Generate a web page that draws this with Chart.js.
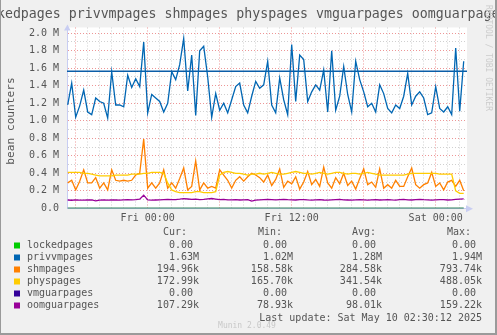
<!DOCTYPE html>
<html>
<head>
<meta charset="utf-8">
<script src="https://cdn.jsdelivr.net/npm/chart.js@4.4.1/dist/chart.umd.min.js"></script>
<style>
html,body{margin:0;padding:0;background:#f0f0f0;}
canvas{display:block;}
</style>
</head>
<body>
<canvas id="beanChart" width="497" height="335"></canvas>
<script>
// samples every 20 min, hours relative to Fri 00:00
const startHour = -6 - 40/60;
const stepHour = 1/3;

// values in thousands
const lockedpages = [
0,0,0,0,0,0,0,0,0,0,0,0,0,0,0,0,0,0,0,0,
0,0,0,0,0,0,0,0,0,0,0,0,0,0,0,0,0,0,0,0,
0,0,0,0,0,0,0,0,0,0,0,0,0,0,0,0,0,0,0,0,
0,0,0,0,0,0,0,0,0,0,0,0,0,0,0,0,0,0,0,0,
0,0,0,0,0,0,0,0,0,0,0,0,0,0,0,0,0,0,0,0
];
const privvmpages = [
1180,1430,1040,1170,1350,1100,1070,1260,1220,1200,
1030,1560,1180,1180,1160,1520,1380,1480,1390,1900,
1090,1300,1260,1220,1100,1200,1560,1470,1640,1940,
1340,1750,1060,1800,1850,1500,1040,1310,1120,1200,
1090,1240,1390,1430,1180,1090,1280,1450,1370,1410,
1680,1180,1090,1490,1240,1070,1870,1220,1750,1700,
1220,1330,1410,1350,1580,1100,1800,1120,1280,1620,
1300,1100,1680,1470,1330,1160,1200,1100,1410,1310,
1140,1090,1180,1140,1280,1540,1180,1280,1330,1260,
1070,1090,1390,1140,1100,1160,1070,1830,1110,1680
];
const privvmLimit = 1566;
const shmpages = [
290,320,210,310,440,290,290,350,230,290,
210,440,320,310,320,310,320,380,400,790,
230,290,230,290,440,230,290,230,340,460,
210,250,540,210,290,230,250,230,440,380,
320,230,320,360,310,360,400,380,350,300,
380,260,330,450,240,310,280,360,220,300,
420,270,330,250,470,290,230,350,280,400,
260,310,220,340,450,270,300,240,450,230,
270,230,320,250,250,360,460,270,230,270,
290,410,250,290,210,300,320,250,320,200
];
const physpages = [
410,410,410,410,400,400,390,380,370,370,
370,370,380,380,380,380,390,390,390,400,
400,410,410,410,400,290,210,190,180,180,
180,180,190,190,180,180,180,190,380,410,
420,410,400,400,390,380,390,390,400,390,
400,410,400,390,390,400,410,420,410,400,
400,390,400,410,400,390,400,410,410,400,
390,400,400,390,400,410,400,390,380,380,
380,380,380,380,380,390,400,400,400,400,
400,400,400,390,390,390,390,200,170,170
];
const vmguarpages = [
0,0,0,0,0,0,0,0,0,0,0,0,0,0,0,0,0,0,0,0,
0,0,0,0,0,0,0,0,0,0,0,0,0,0,0,0,0,0,0,0,
0,0,0,0,0,0,0,0,0,0,0,0,0,0,0,0,0,0,0,0,
0,0,0,0,0,0,0,0,0,0,0,0,0,0,0,0,0,0,0,0,
0,0,0,0,0,0,0,0,0,0,0,0,0,0,0,0,0,0,0,0
];
const oomguarpages = [
95,92,96,94,93,97,95,84,94,96,
93,95,97,94,96,98,97,100,105,150,
96,93,95,97,99,101,98,100,104,110,
106,102,104,100,103,108,112,105,99,101,
97,96,98,95,97,99,82,94,97,99,
101,98,96,100,103,99,97,95,98,100,
96,94,97,99,95,93,96,98,101,97,
95,93,96,99,97,94,96,98,95,97,
100,96,94,98,101,97,95,99,102,98,
96,94,97,100,98,95,97,101,104,107
];

const seriesNames = ["lockedpages","privvmpages","shmpages","physpages","vmguarpages","oomguarpages"];
const seriesColors = ["#00cc00","#0066b3","#ff8000","#ffcc00","#330099","#990099"];
const curVals = ["0.00 ","1.63M","194.96k","172.99k","0.00 ","107.29k"];
const minVals = ["0.00 ","1.02M","158.58k","165.70k","0.00 ","78.93k"];
const avgVals = ["0.00 ","1.28M","284.58k","341.54k","0.00 ","98.01k"];
const maxVals = ["0.00 ","1.94M","793.74k","488.05k","0.00 ","159.22k"];

const xLabels = {0:"Fri 00:00", 12:"Fri 12:00", 24:"Sat 00:00"};
const xMin = -6.725, xMax = xMin + 400/12;
const yMax = 2065;

const mono = "'DejaVu Sans Mono', monospace";
const textGray = "#555";
const axisColor = "#c8cdf2";

function points(vals){
  return vals.map((v,i) => ({x: startHour + i*stepHour, y: v}));
}

const seriesData = [lockedpages, privvmpages, shmpages, physpages, vmguarpages, oomguarpages];
const drawOrder = [0, 5, 4, 3, 1, 2];

const datasets = seriesNames.map((name,k) => ({
  label: name,
  data: points(seriesData[k]),
  borderColor: seriesColors[k],
  borderWidth: 1.3,
  pointRadius: 0,
  tension: 0,
  order: drawOrder[k]
}));
datasets.push({
  label: "privvmpages limit",
  data: [{x: xMin, y: privvmLimit}, {x: xMax, y: privvmLimit}],
  borderColor: "#0b5ea8",
  borderWidth: 1.5,
  pointRadius: 0,
  order: 6
});

// grey page, white plotting area
const backdrop = {
  id: "backdrop",
  beforeDraw(chart){
    const {ctx, chartArea: a} = chart;
    ctx.save();
    ctx.fillStyle = "#f0f0f0";
    ctx.fillRect(0, 0, chart.width, chart.height);
    ctx.fillStyle = "#ffffff";
    ctx.fillRect(a.left, a.top, a.right - a.left, a.bottom - a.top);
    ctx.restore();
  }
};

// title, axis arrows, stats table and footer texts
const decorations = {
  id: "decorations",
  afterDraw(chart){
    const {ctx, chartArea: a} = chart;
    ctx.save();

    // axis arrows
    ctx.fillStyle = axisColor;
    ctx.beginPath();
    ctx.moveTo(a.left - 3, a.top + 3);
    ctx.lineTo(a.left + 3.5, a.top + 3);
    ctx.lineTo(a.left + 0.5, a.top - 3);
    ctx.fill();
    ctx.beginPath();
    ctx.moveTo(a.right - 1, a.bottom - 3);
    ctx.lineTo(a.right - 1, a.bottom + 4);
    ctx.lineTo(a.right + 6, a.bottom + 0.5);
    ctx.fill();

    // title
    ctx.fillStyle = textGray;
    ctx.font = "13.25px " + mono;
    ctx.textAlign = "left";
    ctx.textBaseline = "alphabetic";
    ctx.fillText(seriesNames.join(" "), -27, 18);

    // y axis title
    ctx.save();
    ctx.translate(11, 121);
    ctx.rotate(-Math.PI/2);
    ctx.font = "11.2px " + mono;
    ctx.textAlign = "center";
    ctx.textBaseline = "middle";
    ctx.fillText("bean counters", 0, 0);
    ctx.restore();

    // vertical credit on the right
    ctx.save();
    ctx.translate(488, 5);
    ctx.rotate(Math.PI/2);
    ctx.font = "8px " + mono;
    ctx.fillStyle = "#cccccc";
    ctx.textAlign = "left";
    ctx.textBaseline = "middle";
    ctx.fillText("RRDTOOL / TOBI OETIKER", 0, 0);
    ctx.restore();

    // stats table
    ctx.font = "10px " + mono;
    ctx.textBaseline = "middle";
    ctx.fillStyle = textGray;
    ctx.textAlign = "left";
    ctx.fillText("Cur:", 163, 232);
    ctx.fillText("Min:", 258, 232);
    ctx.fillText("Avg:", 352, 232);
    ctx.fillText("Max:", 447, 232);
    seriesNames.forEach((name,k) => {
      const y = 245.5 + k*12;
      ctx.fillStyle = seriesColors[k];
      ctx.fillRect(14, y - 3, 6, 6);
      ctx.fillStyle = textGray;
      ctx.textAlign = "left";
      ctx.fillText(name, 27, y);
      ctx.textAlign = "right";
      ctx.fillText(curVals[k], 199, y);
      ctx.fillText(minVals[k], 293, y);
      ctx.fillText(avgVals[k], 382, y);
      ctx.fillText(maxVals[k], 482, y);
    });
    ctx.fillText("Last update: Sat May 10 02:30:12 2025", 482, 318);

    ctx.font = "8px " + mono;
    ctx.fillStyle = "#c8c8c8";
    ctx.textAlign = "center";
    ctx.fillText("Munin 2.0.49", 247, 326);

    // frame
    ctx.fillStyle = "#9a9a9a";
    ctx.fillRect(0, 333, chart.width, 2);
    ctx.fillRect(495, 0, 2, chart.height);
    ctx.fillRect(0, 0, 1, chart.height);
    ctx.restore();
  }
};

new Chart(
document.getElementById("beanChart"),
{
type: "line",
data: { datasets: datasets },
options: {
  responsive: false,
  devicePixelRatio: 1,
  animation: false,
  events: [],
  layout: { padding: { left: 0, top: 27.5, right: 30, bottom: 106.7 } },
  plugins: { legend: { display: false }, title: { display: false }, tooltip: { enabled: false } },
  scales: {
    x: {
      type: "linear",
      min: xMin,
      max: xMax,
      afterFit: s => { s.height = 20; },
      border: { display: true, color: axisColor, width: 1, dash: [1, 2] },
      grid: {
        drawTicks: false,
        lineWidth: 1,
        color: c => (c.tick && c.tick.value % 6 === 0) ? "rgba(225,80,80,0.6)" : "rgba(150,150,150,0.45)"
      },
      ticks: {
        stepSize: 1,
        includeBounds: false,
        autoSkip: false,
        maxRotation: 0,
        padding: 4,
        color: textGray,
        font: { family: mono, size: 10 },
        callback: v => xLabels[v] || ""
      }
    },
    y: {
      min: 0,
      max: yMax,
      afterFit: s => { s.width = 67; },
      border: { display: true, color: axisColor, width: 1, dash: [1, 2] },
      grid: {
        drawTicks: false,
        lineWidth: 1,
        color: c => (c.tick && c.tick.value % 200 === 0) ? "rgba(225,80,80,0.6)" : "rgba(150,150,150,0.45)"
      },
      ticks: {
        stepSize: 100,
        includeBounds: false,
        autoSkip: false,
        padding: 8,
        color: textGray,
        font: { family: mono, size: 10 },
        callback: v => v % 200 !== 0 ? "" : (v === 0 ? "0.0" : (v/1000).toFixed(1) + " M")
      }
    }
  }
},
plugins: [backdrop, decorations]
}
);
</script>
</body>
</html>
